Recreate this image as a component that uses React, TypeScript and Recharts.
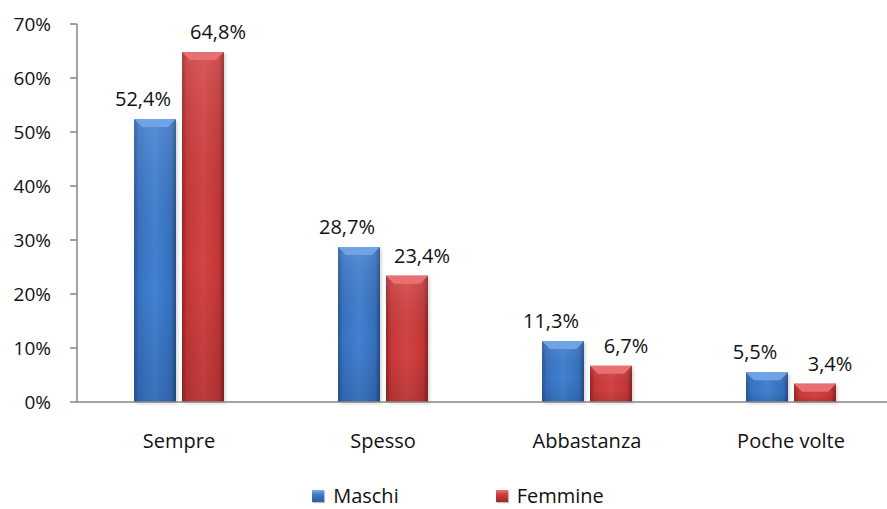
import React from 'react';
import { BarChart, Bar, XAxis, YAxis, LabelList, Legend } from 'recharts';

const categories = ['Sempre', 'Spesso', 'Abbastanza', 'Poche volte'];
const maschi = [52.4, 28.7, 11.3, 5.5];
const femmine = [64.8, 23.4, 6.7, 3.4];
const yTicks = [0, 10, 20, 30, 40, 50, 60, 70];
const edgeTicks = [0, 1, 2, 3, 4];
const seriesNames = ['Maschi', 'Femmine'];

const data = categories.map((c, i) => ({ name: c, maschi: maschi[i], femmine: femmine[i] }));

const FONT = '"Open Sans", sans-serif';
const AXIS = '#868686';

const fmt = (v: number) => `${v.toFixed(1).replace('.', ',')}%`;

const makeShape = (id: string, bevel: string) => (props: any) => {
  const { x, y, width, height } = props;
  if (!height || height <= 0) return <g />;
  const b = Math.min(8, height / 2);
  return (
    <g>
      <rect x={x + 2} y={y + 2} width={width} height={height} fill="#000" opacity={0.14} filter="url(#blur)" />
      <rect x={x} y={y} width={width} height={height} fill={`url(#${id})`} />
      <rect x={x} y={y} width={width} height={height} fill="url(#vshade)" />
      <polygon
        points={`${x},${y} ${x + width},${y} ${x + width - b},${y + b} ${x + b},${y + b}`}
        fill={bevel}
      />
    </g>
  );
};

const makeLabel = (dx: number) => (props: any) => {
  const { x, y, width, value } = props;
  return (
    <text
      x={Number(x) + Number(width) / 2 + dx}
      y={Number(y) - 13}
      textAnchor="middle"
      fontSize={20}
      fontFamily={FONT}
      fill="#111"
    >
      {fmt(Number(value))}
    </text>
  );
};

const renderLegend = () => (
  <div
    style={{
      display: 'flex',
      justifyContent: 'center',
      alignItems: 'center',
      height: 24,
      paddingLeft: 23,
      fontFamily: FONT,
      fontSize: 20,
      color: '#111',
    }}
  >
    {seriesNames.map((n, i) => (
      <div key={n} style={{ display: 'flex', alignItems: 'center', marginRight: i === 0 ? 97 : 0 }}>
        <span
          style={{
            display: 'inline-block',
            width: 12,
            height: 12,
            marginRight: 9,
            background:
              i === 0
                ? 'linear-gradient(180deg, #7aaee8 0%, #3b78c6 40%, #2c5c9e 100%)'
                : 'linear-gradient(180deg, #ea7474 0%, #cc3c3c 40%, #9c2828 100%)',
            boxShadow: '1px 1px 1px rgba(0,0,0,0.25)',
          }}
        />
        <span style={{ lineHeight: '24px' }}>{n}</span>
      </div>
    ))}
  </div>
);

export default function App() {
  return (
    <div style={{ position: 'absolute', left: 0, top: 0, width: 887, height: 509, overflow: 'hidden', background: '#fff' }}>
      <BarChart
        width={900}
        height={509}
        data={data}
        margin={{ top: 24, right: 7, left: 0, bottom: 1 }}
        barSize={42}
        barGap={6}
      >
        <defs>
          <linearGradient id="gBlue" x1="0" y1="0" x2="1" y2="0">
            <stop offset="0%" stopColor="#2a5896" />
            <stop offset="12%" stopColor="#3872c2" />
            <stop offset="50%" stopColor="#4282d2" />
            <stop offset="88%" stopColor="#3570be" />
            <stop offset="100%" stopColor="#244d86" />
          </linearGradient>
          <linearGradient id="gRed" x1="0" y1="0" x2="1" y2="0">
            <stop offset="0%" stopColor="#9a2626" />
            <stop offset="12%" stopColor="#c73838" />
            <stop offset="50%" stopColor="#d44444" />
            <stop offset="88%" stopColor="#c43636" />
            <stop offset="100%" stopColor="#8a2222" />
          </linearGradient>
          <linearGradient id="vshade" x1="0" y1="0" x2="0" y2="1">
            <stop offset="0%" stopColor="#ffffff" stopOpacity={0.12} />
            <stop offset="60%" stopColor="#000000" stopOpacity={0} />
            <stop offset="100%" stopColor="#000000" stopOpacity={0.12} />
          </linearGradient>
          <filter id="blur" x="-20%" y="-20%" width="140%" height="140%">
            <feGaussianBlur stdDeviation="1.5" />
          </filter>
        </defs>
        <XAxis
          xAxisId="b"
          dataKey="name"
          height={81}
          axisLine={false}
          tickLine={false}
          tickSize={0}
          tickMargin={31}
          interval={0}
          tick={{ fontSize: 20, fontFamily: FONT, fill: '#111' }}
        />
        <XAxis
          xAxisId="a"
          type="number"
          domain={[0, 4]}
          allowDataOverflow
          ticks={edgeTicks}
          tick={false}
          height={1}
          tickSize={7}
          axisLine={{ stroke: AXIS, strokeWidth: 1.5 }}
          tickLine={{ stroke: AXIS, strokeWidth: 1.5 }}
        />
        <YAxis
          width={77}
          domain={[0, 70]}
          ticks={yTicks}
          interval={0}
          tickFormatter={(v: number) => `${v}%`}
          tickSize={7}
          tickMargin={19}
          axisLine={{ stroke: AXIS, strokeWidth: 1.5 }}
          tickLine={{ stroke: AXIS, strokeWidth: 1.5 }}
          tick={{ fontSize: 19, fontFamily: FONT, fill: '#111' }}
        />
        <Legend verticalAlign="bottom" content={renderLegend} />
        <Bar xAxisId="b" dataKey="maschi" name="Maschi" fill="#3872c2" isAnimationActive={false} shape={makeShape('gBlue', '#6fa3e6')}>
          <LabelList dataKey="maschi" content={makeLabel(-12)} />
        </Bar>
        <Bar xAxisId="b" dataKey="femmine" name="Femmine" fill="#c73838" isAnimationActive={false} shape={makeShape('gRed', '#e87070')}>
          <LabelList dataKey="femmine" content={makeLabel(15)} />
        </Bar>
      </BarChart>
    </div>
  );
}
